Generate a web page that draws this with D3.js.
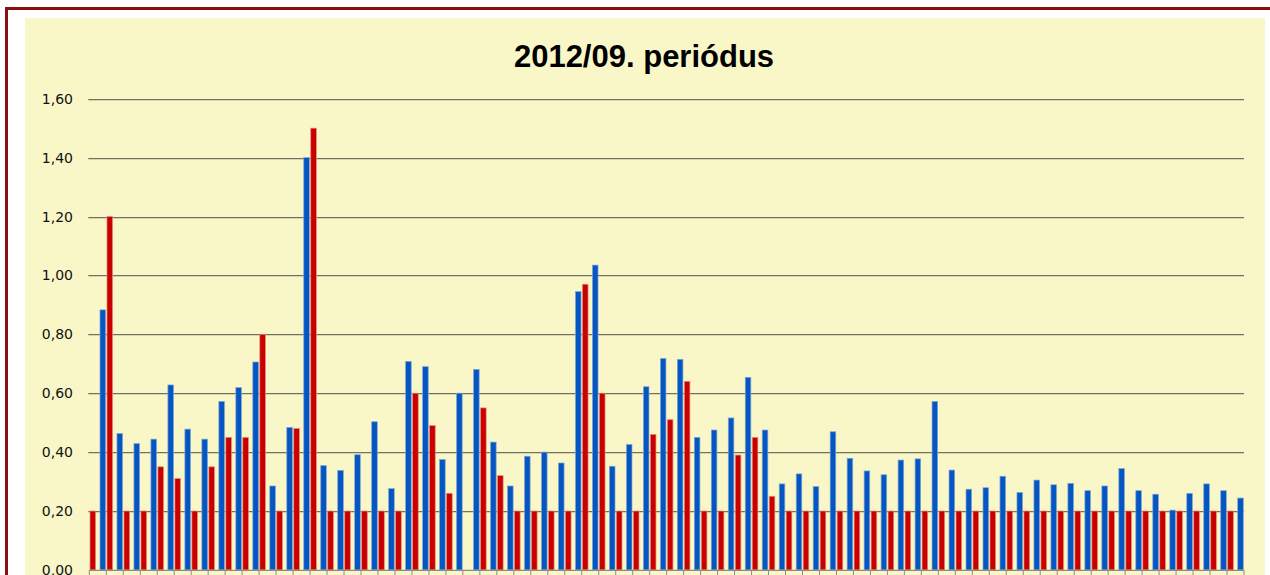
<!DOCTYPE html>
<html lang="hu">
<head>
<meta charset="UTF-8">
<title>2012/09. periódus</title>
<script src="https://d3js.org/d3.v7.min.js"></script>
<style>
html, body { margin: 0; padding: 0; background: #ffffff; }
svg { display: block; }
</style>
</head>
<body>
<div id="chart"></div>
<script>
// data: 68 categories, two series each
var categories = [1,2,3,4,5,6,7,8,9,10,11,12,13,14,15,16,17,18,19,20,
  21,22,23,24,25,26,27,28,29,30,31,32,33,34,35,36,37,38,39,40,
  41,42,43,44,45,46,47,48,49,50,51,52,53,54,55,56,57,58,59,60,
  61,62,63,64,65,66,67,68];

var redValues = [0.20,1.20,0.20,0.20,0.35,0.31,0.20,0.35,0.45,0.45,
  0.80,0.20,0.48,1.50,0.20,0.20,0.20,0.20,0.20,0.60,
  0.49,0.26,null,0.55,0.32,0.20,0.20,0.20,0.20,0.97,
  0.60,0.20,0.20,0.46,0.51,0.64,0.20,0.20,0.39,0.45,
  0.25,0.20,0.20,0.20,0.20,0.20,0.20,0.20,0.20,0.20,
  0.20,0.20,0.20,0.20,0.20,0.20,0.20,0.20,0.20,0.20,
  0.20,0.20,0.20,0.20,0.20,0.20,0.20,0.20];

var blueValues = [0.883,0.463,0.429,0.444,0.628,0.478,0.444,0.572,0.619,0.706,
  0.285,0.484,1.40,0.354,0.338,0.391,0.503,0.276,0.708,0.690,
  0.375,0.600,0.681,0.434,0.285,0.386,0.400,0.363,0.945,1.035,
  0.352,0.426,0.622,0.718,0.715,0.450,0.475,0.516,0.654,0.475,
  0.292,0.326,0.283,0.469,0.379,0.336,0.323,0.373,0.377,0.572,
  0.339,0.274,0.279,0.318,0.263,0.305,0.289,0.294,0.269,0.285,
  0.344,0.269,0.257,0.203,0.260,0.292,0.269,0.244];

var yTicks = [0, 0.2, 0.4, 0.6, 0.8, 1.0, 1.2, 1.4, 1.6];
var title = "2012/09. periódus";

var W = 1270, H = 575;
var plot = {left: 89.3, right: 1244, top: 98.7, bottom: 569.9};

var svg = d3.select("#chart")
  .append("svg")
    .attr("width", W)
    .attr("height", H);

// outer frame and chart area
svg.append("rect")
  .attr("x", 6.5).attr("y", 8.5)
  .attr("width", W + 10).attr("height", H + 10)
  .attr("fill", "#ffffff")
  .attr("stroke", "#8a0f0f")
  .attr("stroke-width", 3);

svg.append("rect")
  .attr("x", 25).attr("y", 18)
  .attr("width", 1240).attr("height", H)
  .attr("fill", "#f9f7c7");

// scales
var x = d3.scaleBand()
  .domain(categories)
  .range([plot.left, plot.right]);

var xSub = d3.scaleBand()
  .domain(["red", "blue"])
  .range([0, x.bandwidth()])
  .paddingInner(0.44)
  .paddingOuter(0.07);

var y = d3.scaleLinear()
  .domain([0, 1.6])
  .range([plot.bottom, plot.top]);

// gridlines with a soft shadow
var grid = svg.append("g");
grid.selectAll(".shadow")
  .data(yTicks.filter(function(d) { return d > 0; }))
  .enter().append("line")
    .attr("x1", plot.left - 1).attr("x2", plot.right)
    .attr("y1", function(d) { return Math.round(y(d)) + 1.5; })
    .attr("y2", function(d) { return Math.round(y(d)) + 1.5; })
    .attr("stroke", "#d8d5a8")
    .attr("stroke-width", 1);
grid.selectAll(".gl")
  .data(yTicks.filter(function(d) { return d > 0; }))
  .enter().append("line")
    .attr("x1", plot.left - 1).attr("x2", plot.right)
    .attr("y1", function(d) { return Math.round(y(d)) + 0.5; })
    .attr("y2", function(d) { return Math.round(y(d)) + 0.5; })
    .attr("stroke", "#707068")
    .attr("stroke-width", 1.2);

// y labels
svg.append("g")
  .selectAll("text")
  .data(yTicks)
  .enter().append("text")
    .attr("x", 73)
    .attr("y", function(d) { return y(d); })
    .attr("dy", "0.36em")
    .attr("text-anchor", "end")
    .style("font-family", "'DejaVu Sans', Verdana, sans-serif")
    .style("font-size", "14px")
    .attr("fill", "#111")
    .text(function(d) { return d3.format(".2f")(d).replace(".", ","); });

// bars
function drawSeries(values, key, fill, edge) {
  svg.append("g")
    .selectAll("rect")
    .data(values.map(function(v, i) { return {cat: categories[i], v: v}; })
      .filter(function(d) { return d.v !== null; }))
    .enter().append("rect")
      .attr("x", function(d) { return x(d.cat) + xSub(key); })
      .attr("y", function(d) { return y(d.v); })
      .attr("width", xSub.bandwidth())
      .attr("height", function(d) { return y(0) - y(d.v); })
      .attr("fill", fill)
      .attr("stroke", edge)
      .attr("stroke-width", 0.7);
}
drawSeries(redValues, "red", "#c80000", "#e88a7a");
drawSeries(blueValues, "blue", "#0556c2", "#7fa6d6");

// x axis with tick marks between categories
var xAxis = svg.append("g");
xAxis.append("line")
  .attr("x1", plot.left).attr("x2", plot.right)
  .attr("y1", plot.bottom + 0.5).attr("y2", plot.bottom + 0.5)
  .attr("stroke", "#8c8c84")
  .attr("stroke-width", 1.2);
xAxis.selectAll(".tk")
  .data(categories.concat(["end"]))
  .enter().append("line")
    .attr("x1", function(d) { return d === "end" ? plot.right : x(d); })
    .attr("x2", function(d) { return d === "end" ? plot.right : x(d); })
    .attr("y1", plot.bottom)
    .attr("y2", plot.bottom + 6)
    .attr("stroke", "#8c8c84")
    .attr("stroke-width", 1);

// title
svg.append("text")
  .attr("x", 644)
  .attr("y", 67)
  .attr("text-anchor", "middle")
  .style("font-family", "'Liberation Sans', Arial, sans-serif")
  .style("font-weight", "bold")
  .style("font-size", "31px")
  .attr("fill", "#000")
  .text(title);
</script>
</body>
</html>
